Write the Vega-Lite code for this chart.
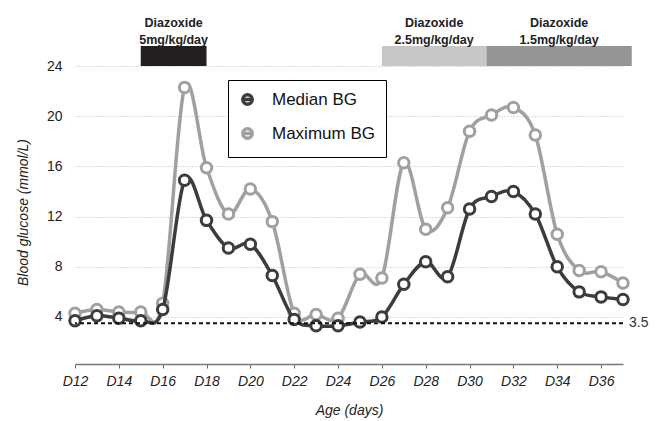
{
  "$schema": "https://vega.github.io/schema/vega-lite/v6.json",
  "width": 548,
  "height": 318,
  "autosize": {"type": "none"},
  "padding": {"left": 75, "top": 46, "right": 39, "bottom": 57},
  "config": {"font": "Liberation Sans", "view": {"stroke": null}},
  "datasets": {
    "bg": [
      {"day": 12, "series": "Median BG", "value": 3.7},
      {"day": 13, "series": "Median BG", "value": 4.1},
      {"day": 14, "series": "Median BG", "value": 3.9},
      {"day": 15, "series": "Median BG", "value": 3.7},
      {"day": 16, "series": "Median BG", "value": 4.6},
      {"day": 17, "series": "Median BG", "value": 14.9},
      {"day": 18, "series": "Median BG", "value": 11.7},
      {"day": 19, "series": "Median BG", "value": 9.5},
      {"day": 20, "series": "Median BG", "value": 9.8},
      {"day": 21, "series": "Median BG", "value": 7.3},
      {"day": 22, "series": "Median BG", "value": 3.8},
      {"day": 23, "series": "Median BG", "value": 3.3},
      {"day": 24, "series": "Median BG", "value": 3.3},
      {"day": 25, "series": "Median BG", "value": 3.6},
      {"day": 26, "series": "Median BG", "value": 4.0},
      {"day": 27, "series": "Median BG", "value": 6.6},
      {"day": 28, "series": "Median BG", "value": 8.4},
      {"day": 29, "series": "Median BG", "value": 7.2},
      {"day": 30, "series": "Median BG", "value": 12.6},
      {"day": 31, "series": "Median BG", "value": 13.6},
      {"day": 32, "series": "Median BG", "value": 14.0},
      {"day": 33, "series": "Median BG", "value": 12.2},
      {"day": 34, "series": "Median BG", "value": 8.0},
      {"day": 35, "series": "Median BG", "value": 6.0},
      {"day": 36, "series": "Median BG", "value": 5.6},
      {"day": 37, "series": "Median BG", "value": 5.4},
      {"day": 12, "series": "Maximum BG", "value": 4.3},
      {"day": 13, "series": "Maximum BG", "value": 4.6},
      {"day": 14, "series": "Maximum BG", "value": 4.4},
      {"day": 15, "series": "Maximum BG", "value": 4.4},
      {"day": 16, "series": "Maximum BG", "value": 5.1},
      {"day": 17, "series": "Maximum BG", "value": 22.3},
      {"day": 18, "series": "Maximum BG", "value": 15.9},
      {"day": 19, "series": "Maximum BG", "value": 12.2},
      {"day": 20, "series": "Maximum BG", "value": 14.2},
      {"day": 21, "series": "Maximum BG", "value": 11.6},
      {"day": 22, "series": "Maximum BG", "value": 4.3},
      {"day": 23, "series": "Maximum BG", "value": 4.2},
      {"day": 24, "series": "Maximum BG", "value": 3.9},
      {"day": 25, "series": "Maximum BG", "value": 7.4},
      {"day": 26, "series": "Maximum BG", "value": 7.1},
      {"day": 27, "series": "Maximum BG", "value": 16.3},
      {"day": 28, "series": "Maximum BG", "value": 11.0},
      {"day": 29, "series": "Maximum BG", "value": 12.7},
      {"day": 30, "series": "Maximum BG", "value": 18.8},
      {"day": 31, "series": "Maximum BG", "value": 20.1},
      {"day": 32, "series": "Maximum BG", "value": 20.7},
      {"day": 33, "series": "Maximum BG", "value": 18.5},
      {"day": 34, "series": "Maximum BG", "value": 10.6},
      {"day": 35, "series": "Maximum BG", "value": 7.7},
      {"day": 36, "series": "Maximum BG", "value": 7.6},
      {"day": 37, "series": "Maximum BG", "value": 6.7}
    ],
    "doses": [
      {"dose": "5mg/kg/day", "label": "Diazoxide\n5mg/kg/day", "start": 15, "end": 18},
      {"dose": "2.5mg/kg/day", "label": "Diazoxide\n2.5mg/kg/day", "start": 26, "end": 30.77},
      {"dose": "1.5mg/kg/day", "label": "Diazoxide\n1.5mg/kg/day", "start": 30.77, "end": 37.4}
    ]
  },
  "layer": [
    {
      "data": {"name": "bg"},
      "transform": [{"filter": "datum.series == 'Maximum BG'"}],
      "mark": {"type": "line", "interpolate": "cardinal", "strokeWidth": 3.5},
      "encoding": {
        "x": {"field": "day", "type": "quantitative", "title": "Age (days)", "scale": {"domain": [12, 37], "nice": false, "zero": false},
          "axis": {"title": "Age (days)", "values": [12,13,14,15,16,17,18,19,20,21,22,23,24,25,26,27,28,29,30,31,32,33,34,35,36,37],
            "labelExpr": "datum.value % 2 == 0 ? 'D' + datum.value : ''", "labelFontStyle": "italic", "labelFontSize": 14, "labelColor": "#222",
            "labelPadding": 6, "labelFlush": false, "labelOverlap": false, "tickSize": 4, "tickColor": "#666", "domainColor": "#777", "domainWidth": 1.5,
            "grid": false, "titleFontStyle": "italic", "titleFontWeight": "normal", "titleFontSize": 14, "titleColor": "#222", "titlePadding": 15}},
        "y": {"field": "value", "type": "quantitative", "title": "Blood glucose (mmol/L)", "scale": {"domain": [0.25, 25.6], "nice": false, "zero": false},
          "axis": {"title": "Blood glucose (mmol/L)", "values": [4, 8, 12, 16, 20, 24], "grid": true, "gridDash": [1, 2], "gridColor": "#bbbbbb",
            "domain": false, "ticks": false, "labelPadding": 13, "labelFontSize": 14, "labelColor": "#222",
            "titleFontStyle": "italic", "titleFontWeight": "normal", "titleFontSize": 14, "titleColor": "#222", "titleX": -52, "titleY": 166, "titleBaseline": "middle"}},
        "stroke": {"field": "series", "type": "nominal", "scale": {"domain": ["Median BG", "Maximum BG"], "range": ["#3c3c3c", "#a0a0a0"]},
          "legend": {"orient": "none", "legendX": 153, "legendY": 34, "title": null, "strokeColor": "#000", "fillColor": "white", "padding": 11,
            "labelFontSize": 17, "labelColor": "#111", "symbolType": "M-1,0A1,1,0,1,1,1,0A1,1,0,1,1,-1,0ZM-1,0L1,0", "symbolSize": 90,
            "symbolStrokeWidth": 3.4, "symbolFillColor": "white", "rowPadding": 9, "labelOffset": 16}}
      }
    },
    {
      "data": {"name": "doses"},
      "mark": {"type": "rect"},
      "encoding": {
        "x": {"field": "start", "type": "quantitative", "title": "Age (days)"},
        "x2": {"field": "end"},
        "y": {"datum": 24, "type": "quantitative", "title": "Blood glucose (mmol/L)"},
        "y2": {"datum": 25.6},
        "color": {"field": "dose", "type": "nominal", "scale": {"domain": ["5mg/kg/day", "2.5mg/kg/day", "1.5mg/kg/day"], "range": ["#231f20", "#c7c7c7", "#959595"]}, "legend": null}
      }
    },
    {
      "data": {"name": "doses"},
      "transform": [{"calculate": "(datum.start + datum.end) / 2", "as": "mid"}],
      "mark": {"type": "text", "lineBreak": "\n", "fontWeight": "bold", "fontSize": 12.5, "lineHeight": 17, "baseline": "middle", "dy": -23.5, "color": "#222"},
      "encoding": {
        "x": {"field": "mid", "type": "quantitative", "title": "Age (days)"},
        "y": {"datum": 25.6, "type": "quantitative", "title": "Blood glucose (mmol/L)"},
        "text": {"field": "label", "type": "nominal"}
      }
    },
    {
      "data": {"name": "bg"},
      "transform": [{"filter": "datum.series == 'Maximum BG'"}],
      "mark": {"type": "point", "filled": true, "fill": "white", "size": 110, "strokeWidth": 3, "opacity": 1},
      "encoding": {
        "x": {"field": "day", "type": "quantitative", "title": "Age (days)"},
        "y": {"field": "value", "type": "quantitative", "title": "Blood glucose (mmol/L)"},
        "stroke": {"field": "series", "type": "nominal"}
      }
    },
    {
      "data": {"name": "bg"},
      "transform": [{"filter": "datum.series == 'Median BG'"}],
      "mark": {"type": "line", "interpolate": "cardinal", "strokeWidth": 3.5},
      "encoding": {
        "x": {"field": "day", "type": "quantitative", "title": "Age (days)"},
        "y": {"field": "value", "type": "quantitative", "title": "Blood glucose (mmol/L)"},
        "stroke": {"field": "series", "type": "nominal"}
      }
    },
    {
      "data": {"name": "bg"},
      "transform": [{"filter": "datum.series == 'Median BG'"}],
      "mark": {"type": "point", "filled": true, "fill": "white", "size": 110, "strokeWidth": 3, "opacity": 1},
      "encoding": {
        "x": {"field": "day", "type": "quantitative", "title": "Age (days)"},
        "y": {"field": "value", "type": "quantitative", "title": "Blood glucose (mmol/L)"},
        "stroke": {"field": "series", "type": "nominal"}
      }
    },
    {
      "data": {"values": [{}]},
      "mark": {"type": "rule", "strokeDash": [4, 3], "strokeWidth": 2, "color": "#111"},
      "encoding": {"y": {"datum": 3.5, "type": "quantitative", "title": "Blood glucose (mmol/L)"}}
    },
    {
      "data": {"values": [{}]},
      "mark": {"type": "text", "align": "left", "baseline": "middle", "dx": 6, "fontSize": 14, "color": "#333"},
      "encoding": {
        "x": {"datum": 37, "type": "quantitative", "title": "Age (days)"},
        "y": {"datum": 3.5, "type": "quantitative", "title": "Blood glucose (mmol/L)"},
        "text": {"value": "3.5"}
      }
    }
  ]
}
